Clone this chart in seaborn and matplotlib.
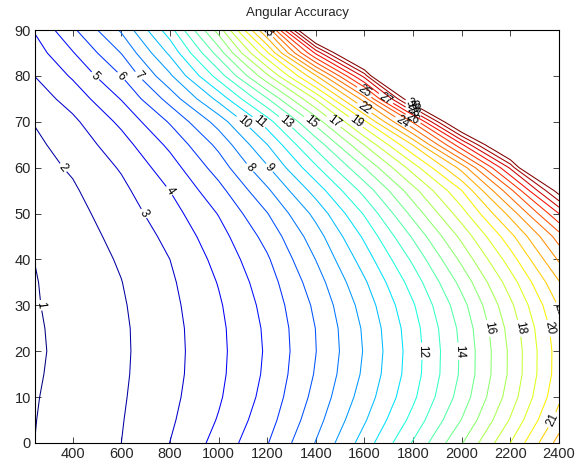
import numpy as np
import matplotlib
matplotlib.use("Agg")
import matplotlib.pyplot as plt
import seaborn as sns

# grid: distance (x) vs angle (y), value = accuracy level
distance = [200, 400, 600, 800, 1000, 1200, 1400, 1600, 1800, 2000, 2200, 2400]
angle = list(range(0, 91, 5))

acc_00 = [0.88, 1.44, 2.00, 3.01, 4.34, 5.94, 8.05, 10.46, 13.10, 15.93, 19.00, 22.40]
acc_05 = [0.86, 1.40, 1.95, 2.85, 4.07, 5.59, 7.63, 9.89, 12.33, 15.04, 18.09, 21.44]
acc_10 = [0.83, 1.36, 1.90, 2.74, 3.88, 5.34, 7.31, 9.47, 11.81, 14.45, 17.48, 20.80]
acc_15 = [0.80, 1.29, 1.86, 2.67, 3.78, 5.19, 7.09, 9.19, 11.55, 14.18, 17.20, 20.50]
acc_20 = [0.78, 1.25, 1.84, 2.65, 3.75, 5.13, 6.98, 9.08, 11.50, 14.16, 17.19, 20.48]
acc_25 = [0.79, 1.28, 1.85, 2.67, 3.78, 5.18, 7.02, 9.16, 11.60, 14.28, 17.36, 20.64]
acc_30 = [0.82, 1.34, 1.90, 2.74, 3.88, 5.32, 7.20, 9.42, 11.90, 14.64, 17.78, 21.10]
acc_35 = [0.83, 1.40, 1.98, 2.84, 4.05, 5.54, 7.54, 9.86, 12.44, 15.32, 18.50, 21.92]
acc_40 = [0.88, 1.47, 2.10, 3.00, 4.29, 5.87, 8.02, 10.47, 13.20, 16.24, 19.50, 23.15]
acc_45 = [1.08, 1.57, 2.27, 3.25, 4.61, 6.33, 8.55, 11.18, 14.14, 17.27, 20.67, 24.50]
acc_50 = [1.30, 1.70, 2.49, 3.59, 5.05, 6.96, 9.30, 12.11, 15.32, 18.57, 22.35, 27.00]
acc_55 = [1.43, 1.88, 2.75, 4.01, 5.67, 7.82, 10.41, 13.36, 16.62, 19.98, 24.70, 30.60]
acc_60 = [1.55, 2.11, 3.10, 4.55, 6.44, 8.87, 11.81, 15.00, 18.48, 22.38, 28.18, 38.30]
acc_65 = [1.66, 2.39, 3.59, 5.22, 7.26, 9.98, 13.35, 17.03, 21.07, 26.82, 33.45, 42.29]
acc_70 = [1.85, 2.79, 4.22, 6.10, 8.41, 11.51, 15.39, 19.77, 25.16, 32.70, 40.00, 47.00]
acc_75 = [2.24, 3.40, 5.05, 7.38, 10.30, 13.92, 18.11, 23.52, 31.50, 40.37, 48.11, 55.42]
acc_80 = [2.70, 4.13, 6.00, 8.82, 12.44, 16.79, 21.89, 28.37, 40.40, 48.00, 56.00, 64.00]
acc_85 = [3.15, 4.93, 7.03, 10.20, 14.44, 19.83, 27.21, 34.56, 45.90, 53.66, 61.75, 69.88]
acc_90 = [3.62, 5.81, 8.14, 11.58, 16.42, 23.13, 33.90, 42.00, 50.00, 58.00, 66.00, 74.00]

levels = list(range(1, 31))
x_ticks = list(range(400, 2401, 200))
y_ticks = list(range(0, 91, 10))

sns.set_style("ticks")
plt.rcParams['font.family'] = ['Liberation Sans', 'DejaVu Sans']

acc = np.array([acc_00, acc_05, acc_10, acc_15, acc_20, acc_25, acc_30,
                acc_35, acc_40, acc_45, acc_50, acc_55, acc_60, acc_65,
                acc_70, acc_75, acc_80, acc_85, acc_90])

fig = plt.figure(figsize=(5.87, 4.66), dpi=100)
ax = fig.add_axes([0.0596, 0.0494, 0.8927, 0.8862])

cs = ax.contour(distance, angle, acc, levels=levels, cmap='jet',
                vmin=1, vmax=30, linewidths=0.75)
ax.clabel(cs, fmt='%d', fontsize=8.5, colors='k', inline=True, inline_spacing=2)

ax.set_xlim(245, 2400)
ax.set_ylim(0, 90)
ax.set_xticks(x_ticks)
ax.set_yticks(y_ticks)
ax.tick_params(direction='in', top=True, right=True, labelsize=10.5, length=4,
               width=0.6, pad=3, labeltop=False, labelright=False)
for sp in ax.spines.values():
    sp.set_visible(True)
    sp.set_color('black')
    sp.set_linewidth(0.8)
ax.set_title('Angular Accuracy', fontsize=9.5, pad=10)

fig.savefig('out.png', dpi=100)
